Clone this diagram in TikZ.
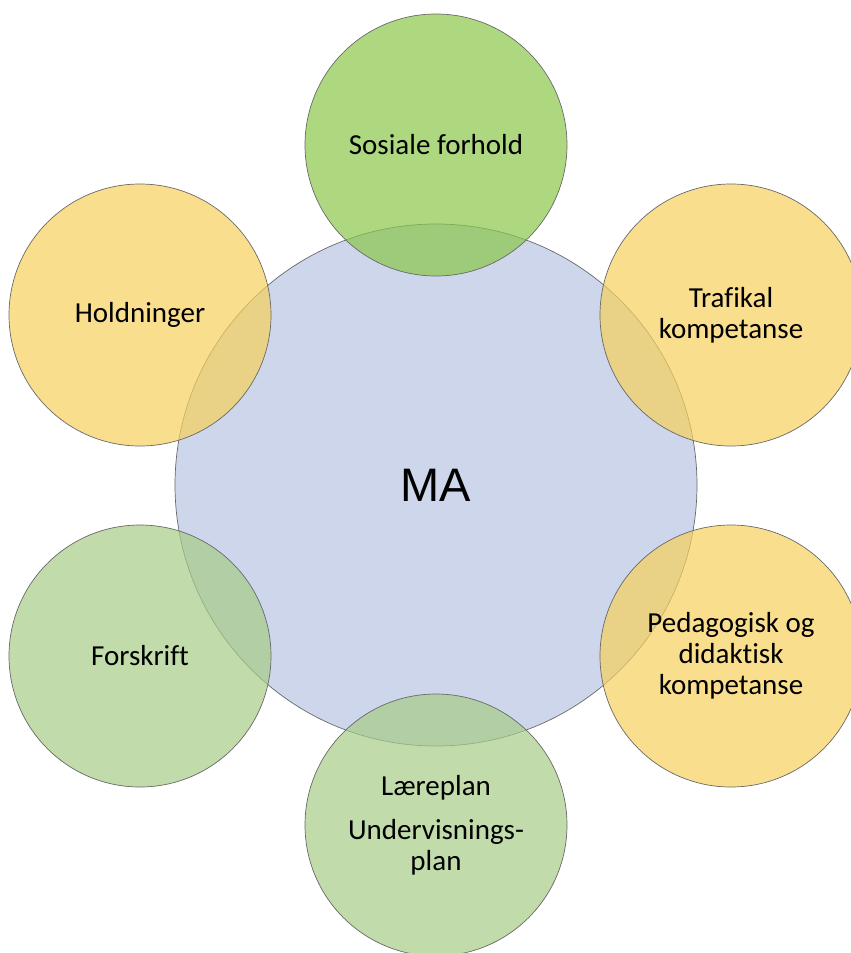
\documentclass[tikz,border=0pt]{standalone}
\usepackage{fontspec}
\setmainfont{Carlito}[RawFeature={-liga,-clig,-calt,-dlig}]
\newfontfamily\hubfont{Liberation Sans}

\definecolor{hubblue}{RGB}{205,214,235}
\definecolor{ringedge}{RGB}{105,105,105}
\definecolor{sunyellow}{RGB}{246,208,92}
\definecolor{leafgreen}{RGB}{139,199,74}
\definecolor{sagegreen}{RGB}{166,204,136}

\begin{document}
\begin{tikzpicture}[x=1pt,y=-1pt,
  hub/.style={circle, minimum size=522pt, inner sep=0pt, draw=ringedge,
    line width=0.7pt, fill=hubblue, font=\hubfont\fontsize{47}{52}\selectfont},
  satellite/.style={circle, minimum size=262pt, inner sep=0pt, draw=ringedge,
    line width=0.7pt, fill opacity=0.7, text opacity=1, align=center,
    font=\fontsize{29}{31}\selectfont},
  yellowsat/.style={satellite, fill=sunyellow},
  greensat/.style={satellite, fill=leafgreen},
  sagesat/.style={satellite, fill=sagegreen}]

  \useasboundingbox (0,0) rectangle (851,953);

  % central circle
  \node[hub] (ma) at (436,485) {MA};

  % surrounding circles, hexagonal arrangement
  \node[greensat]  (sosiale)    at (436,145) {Sosiale forhold};
  \node[yellowsat] (trafikal)   at (731,315) {Trafikal\\kompetanse};
  \node[yellowsat] (pedagogisk) at (731,656) {Pedagogisk og\\didaktisk\\kompetanse};
  \node[sagesat]   (laereplan)  at (436,825) {Læreplan\\[13pt]Undervisnings-\\plan};
  \node[sagesat]   (forskrift)  at (140,656) {Forskrift};
  \node[yellowsat] (holdninger) at (140,315) {Holdninger};
\end{tikzpicture}
\end{document}
